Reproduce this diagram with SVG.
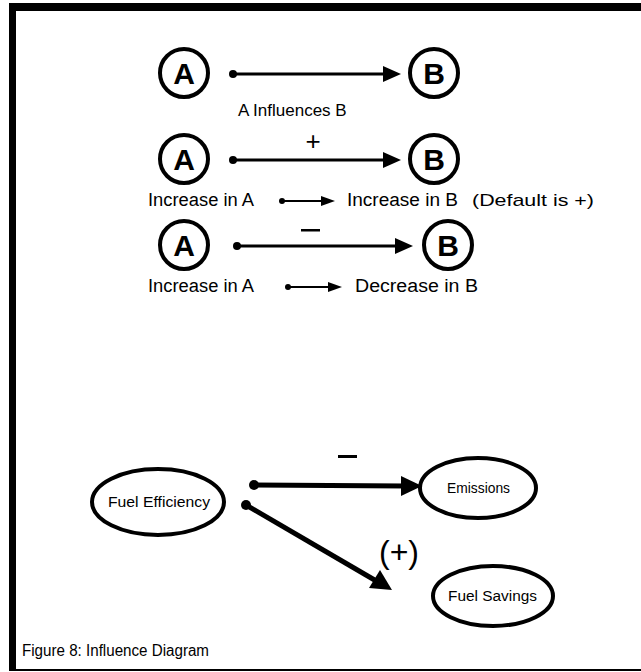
<svg xmlns="http://www.w3.org/2000/svg" width="641" height="672" viewBox="0 0 641 672">
<style>
.n{fill:none;stroke:#000;stroke-width:4}
.lt{font-family:"Liberation Sans",Arial,sans-serif;font-weight:bold;font-size:30px;text-anchor:middle}
.t{font-family:"Liberation Sans",Arial,sans-serif;fill:#000}
.s{font-family:"Liberation Sans",Arial,sans-serif;font-size:14px}
.ln{stroke:#000;stroke-width:3}
.lnb{stroke:#000;stroke-width:5}
</style>
<rect width="641" height="672" fill="#fff"/>
<g id="frame">
<rect x="9" y="3" width="632" height="8" fill="#000"/>
<rect x="9" y="3" width="7" height="668" fill="#000"/>
<rect x="9" y="669" width="632" height="2" fill="#000"/>
</g>
<g id="A1"><circle class="n" cx="184" cy="73" r="24"/><text class="lt" x="184" y="84">A</text></g>
<g id="B1"><circle class="n" cx="434" cy="73" r="24"/><text class="lt" x="434" y="84">B</text></g>
<g id="A2"><circle class="n" cx="184" cy="159" r="24"/><text class="lt" x="184" y="170">A</text></g>
<g id="B2"><circle class="n" cx="434" cy="159" r="24"/><text class="lt" x="434" y="170">B</text></g>
<g id="A3"><circle class="n" cx="184" cy="245" r="24"/><text class="lt" x="184" y="256">A</text></g>
<g id="B3"><circle class="n" cx="448" cy="245" r="24"/><text class="lt" x="448" y="256">B</text></g>
<g id="FE"><ellipse class="n" cx="158" cy="502" rx="66" ry="33"/><text class="s" x="108" y="507" textLength="102" lengthAdjust="spacingAndGlyphs">Fuel Efficiency</text></g>
<g id="EM"><ellipse class="n" cx="478" cy="488" rx="58" ry="30"/><text class="s" x="447" y="493" textLength="63" lengthAdjust="spacingAndGlyphs">Emissions</text></g>
<g id="FS"><ellipse class="n" cx="493" cy="596" rx="60" ry="30"/><text class="s" x="448" y="601" textLength="89" lengthAdjust="spacingAndGlyphs">Fuel Savings</text></g>
<g id="connectors">
<circle cx="233" cy="74" r="4"/><line class="ln" x1="233" y1="74" x2="386" y2="74"/><polygon points="401,74 383,66 383,82"/>
<circle cx="233" cy="160" r="4"/><line class="ln" x1="233" y1="160" x2="386" y2="160"/><polygon points="401,160 383,152 383,168"/>
<circle cx="237" cy="246" r="4"/><line class="ln" x1="237" y1="246" x2="398" y2="246"/><polygon points="413,246 395,238 395,254"/>
<circle cx="282" cy="201" r="3"/><line stroke="#000" stroke-width="2" x1="282" y1="201" x2="322" y2="201"/><polygon points="335,201 321,196 321,206"/>
<circle cx="288" cy="287" r="3"/><line stroke="#000" stroke-width="2" x1="288" y1="287" x2="329" y2="287"/><polygon points="342,287 328,282 328,292"/>
<circle cx="254" cy="485" r="5"/><line class="lnb" x1="254" y1="485" x2="405" y2="486"/><polygon points="422,486 401,476 401,496"/>
<circle cx="246" cy="505" r="5"/><line class="lnb" x1="246" y1="505" x2="378" y2="582"/><polygon points="392,590 369,588 380,570"/>
</g>
<g id="labels">
<text class="t" style="font-size:17px" x="238" y="116">A Influences B</text>
<text class="t" style="font-size:26px" x="313" y="150" text-anchor="middle">+</text>
<rect x="301" y="229" width="19" height="2.5"/>
<text class="t" style="font-size:18px" x="148" y="206" textLength="106" lengthAdjust="spacingAndGlyphs">Increase in A</text>
<text class="t" style="font-size:18px" x="347" y="206" textLength="111" lengthAdjust="spacingAndGlyphs">Increase in B</text>
<text class="t" style="font-size:17px" x="472" y="206" textLength="122" lengthAdjust="spacingAndGlyphs">(Default is +)</text>
<text class="t" style="font-size:18px" x="148" y="292" textLength="106" lengthAdjust="spacingAndGlyphs">Increase in A</text>
<text class="t" style="font-size:18px" x="355" y="292" textLength="123" lengthAdjust="spacingAndGlyphs">Decrease in B</text>
<rect x="338" y="455" width="19" height="3"/>
<text class="t" style="font-size:32px" x="399" y="563" text-anchor="middle">(+)</text>
<text class="t" style="font-size:16px" x="22" y="656" textLength="187" lengthAdjust="spacingAndGlyphs">Figure 8: Influence Diagram</text>
</g>
</svg>
